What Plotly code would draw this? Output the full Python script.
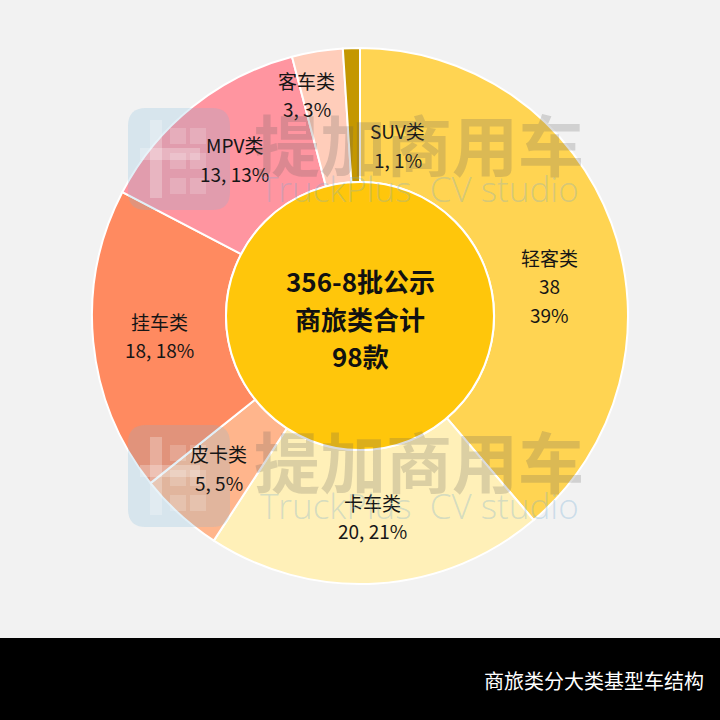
import math
import plotly.graph_objects as go

# ---- data ----
categories = ["轻客类", "卡车类", "皮卡类", "挂车类", "MPV类", "客车类", "SUV类"]
counts = [38, 20, 5, 18, 13, 3, 1]
percents = [39, 21, 5, 18, 13, 3, 1]
center_lines = ["356-8批公示", "商旅类合计", "98款"]
footer_text = "商旅类分大类基型车结构"

# ---- styles ----
colors = ["#FFD452", "#FFF0B8", "#FFB58C", "#FF8A60", "#FF95A0", "#FFCDBA", "#C49700"]
center_color = "#FFC60B"
W = H = 720
CX, CY = 360, 316          # pixel centre of the donut
R_OUT, R_IN = 268, 134
FONT = "Noto Sans CJK SC"
# manual nudges (px, screen coords) for labels that the original moved
label_nudge = {"轻客类": (1, 39), "皮卡类": (-6, 3), "客车类": (-21, -23), "SUV类": (44, 30)}

def px2paper(x, y):
    return x / W, 1 - y / H

fig = go.Figure()

x0, y0 = px2paper(CX - R_OUT, CY + R_OUT)
x1, y1 = px2paper(CX + R_OUT, CY - R_OUT)
fig.add_trace(go.Pie(
    labels=categories, values=counts, sort=False, direction="clockwise", rotation=0,
    hole=R_IN / R_OUT, marker=dict(colors=colors, line=dict(color="white", width=2)),
    textinfo="none", hoverinfo="label+value+percent", showlegend=False,
    domain=dict(x=[x0, x1], y=[y0, y1]),
))

ix0, iy0 = px2paper(CX - R_IN, CY + R_IN)
ix1, iy1 = px2paper(CX + R_IN, CY - R_IN)
fig.add_trace(go.Pie(
    labels=["合计"], values=[sum(counts)], sort=False,
    marker=dict(colors=[center_color], line=dict(color="white", width=2)),
    textinfo="none", hoverinfo="label+value", showlegend=False,
    domain=dict(x=[ix0, ix1], y=[iy0, iy1]),
))

annotations = []

# slice labels, positioned at mid-angle of each slice
total = sum(counts)
cum = 0
r_mid = (R_OUT + R_IN) / 2
for cat, v, p in zip(categories, counts, percents):
    mid = (cum + v / 2) / total * 2 * math.pi
    cum += v
    lx = CX + r_mid * math.sin(mid)
    ly = CY - r_mid * math.cos(mid)
    dx, dy = label_nudge.get(cat, (0, 0))
    lx += dx
    ly += dy
    if cat == "轻客类":
        lines = [cat, f"{v}", f"{p}%"]
    else:
        lines = [cat, f"{v}, {p}%"]
    n = len(lines)
    pitch = 28.5
    for i, t in enumerate(lines):
        yy = ly + (i - (n - 1) / 2) * pitch
        ax, ay = px2paper(lx, yy)
        annotations.append(dict(x=ax, y=ay, xref="paper", yref="paper", text=t,
                                showarrow=False, xanchor="center", yanchor="middle",
                                font=dict(family=FONT, size=19, color="#161616")))

# centre text
c_pitch = 37
for i, t in enumerate(center_lines):
    yy = 318 + (i - 1) * c_pitch
    ax, ay = px2paper(CX, yy)
    annotations.append(dict(x=ax, y=ay, xref="paper", yref="paper", text=f"<b>{t}</b>",
                            showarrow=False, xanchor="center", yanchor="middle",
                            font=dict(family=FONT, size=26, color="#111111")))

shapes = []
# watermarks (two copies)
for top in (108, 425):
    lx0, lx1, ly0, ly1 = 128, 230, top, top + 102
    rr = 18
    path = (f"M {lx0+rr},{ly0} L {lx1-rr},{ly0} Q {lx1},{ly0} {lx1},{ly0+rr} "
            f"L {lx1},{ly1-rr} Q {lx1},{ly1} {lx1-rr},{ly1} L {lx0+rr},{ly1} "
            f"Q {lx0},{ly1} {lx0},{ly1-rr} L {lx0},{ly0+rr} Q {lx0},{ly0} {lx0+rr},{ly0} Z")
    shapes.append(dict(type="path", xref="x", yref="y", path=path,
                       fillcolor="rgba(120,180,220,0.22)", line=dict(width=0), layer="above"))
    # inner lighter bars of the logo
    shapes.append(dict(type="rect", xref="x", yref="y", x0=150, x1=162, y0=top + 12, y1=top + 90,
                       fillcolor="rgba(255,255,255,0.25)", line=dict(width=0), layer="above"))
    shapes.append(dict(type="rect", xref="x", yref="y", x0=140, x1=200, y0=top + 40, y1=top + 52,
                       fillcolor="rgba(255,255,255,0.25)", line=dict(width=0), layer="above"))
    for gx in (170, 190):
        for gy in (top + 20, top + 45, top + 70):
            shapes.append(dict(type="rect", xref="x", yref="y", x0=gx, x1=gx + 16, y0=gy, y1=gy + 16,
                               fillcolor="rgba(255,255,255,0.18)", line=dict(width=0), layer="above"))
    ax, ay = px2paper(419, top + 34)
    annotations.append(dict(x=ax, y=ay, xref="paper", yref="paper", text="<b>提加商用车</b>",
                            showarrow=False, xanchor="center", yanchor="middle",
                            font=dict(family=FONT, size=66, color="rgba(90,90,90,0.22)")))
    ax, ay = px2paper(419, top + 81)
    annotations.append(dict(x=ax, y=ay, xref="paper", yref="paper", text="TruckPlus  CV studio",
                            showarrow=False, xanchor="center", yanchor="middle",
                            font=dict(family="Open Sans", size=35, weight=300,
                                      color="rgba(110,170,210,0.3)")))

# footer band
shapes.append(dict(type="rect", xref="paper", yref="paper", x0=0, x1=1, y0=0, y1=82 / H,
                   fillcolor="black", line=dict(width=0), layer="above"))
ax, ay = px2paper(706, 680)
annotations.append(dict(x=ax, y=ay, xref="paper", yref="paper", text=footer_text,
                        showarrow=False, xanchor="right", yanchor="middle",
                        font=dict(family=FONT, size=20, color="white")))

fig.update_layout(
    width=W, height=H, margin=dict(l=0, r=0, t=0, b=0),
    paper_bgcolor="#F2F2F2", plot_bgcolor="rgba(0,0,0,0)",
    xaxis=dict(range=[0, W], visible=False, fixedrange=True),
    yaxis=dict(range=[H, 0], visible=False, fixedrange=True),
    annotations=annotations, shapes=shapes,
)

fig.write_html("out.html", config={"displayModeBar": False},
               post_script="document.body.style.margin='0';")
